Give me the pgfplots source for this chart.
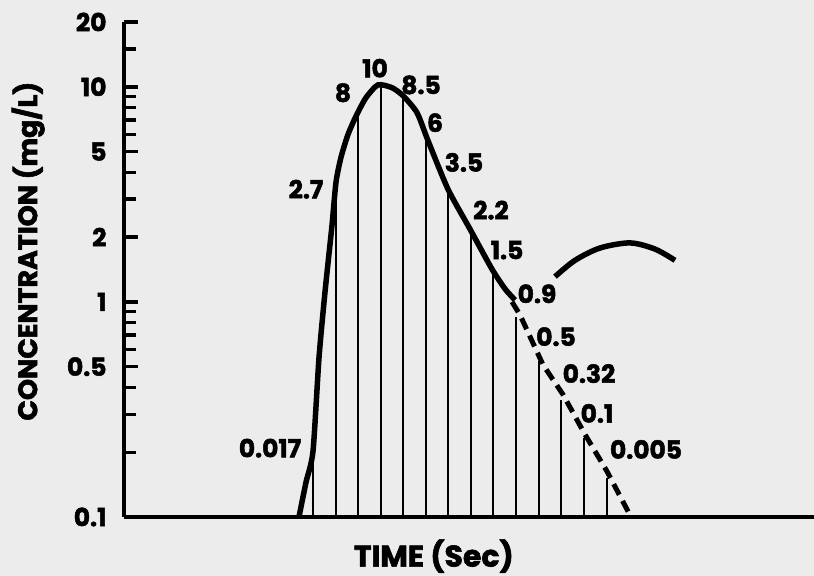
\documentclass[border=0pt]{standalone}
\usepackage{pgfplots}
\pgfplotsset{compat=1.18}
\usepackage{fontspec}
\setmainfont{Poppins}[Numbers=Proportional, BoldFeatures={FakeBold=2}]
\definecolor{bg}{RGB}{236,236,236}
\newcommand{\lblfont}{\fontsize{25}{25}\selectfont\bfseries}
\begin{document}
\begin{tikzpicture}
\path[use as bounding box, fill=bg] (-124bp,-59bp) rectangle (690bp,517bp);
\begin{axis}[
  at={(0,0)}, anchor=south west,
  scale only axis, width=690bp, height=495bp,
  xmin=124, xmax=814, ymode=log, ymin=0.1, ymax=20,
  axis x line=bottom, axis y line=left,
  axis line style={-, line width=4.5bp},
  xtick=\empty,
  ytick={0.1,0.5,1,2,5,10,20},
  yticklabels={0.1,0.5,1,2,5,10,20},
  minor ytick={0.2,0.3,0.4,0.6,0.7,0.8,0.9,3,4,6,7,8,9,15},
  tick align=inside,
  major tick length=14bp, minor tick length=12bp,
  every tick/.style={line width=3.5bp, black},
  yticklabel style={font=\lblfont, xshift=-14bp},
  /pgf/number format/assume math mode=true,
  unbounded coords=jump,
  clip=false,
  xlabel={TIME (Sec)}, ylabel={CONCENTRATION (mg/L)},
  xlabel style={at={(axis description cs:0.449,-0.079)}, anchor=center, font=\fontsize{30}{30}\selectfont\bfseries},
  ylabel style={at={(axis description cs:-0.139,0.537)}, anchor=center, font=\fontsize{27}{27}\selectfont\bfseries},
]
% main solid curve
\addplot[line width=5.5bp, smooth, tension=0.4] coordinates {
(299,0.1) (306,0.145) (313,0.202) (319,0.55) (325,1.11) (332,2.27)
(336,3.6) (341,4.7) (348,6.0) (356,7.3) (366,8.9) (378,10.2) (392,9.9) (403,9.09)
(417,7.58) (428,5.62) (448,3.34) (470,2.18) (492,1.42) (505,1.15) (515,1.02)
};
% dashed extrapolation
\addplot[line width=5bp, dash pattern=on 12bp off 7bp] coordinates {
(512,1.0) (520,0.87) (543,0.51) (563,0.371) (585,0.242) (607,0.163) (631,0.1)
};
% recirculation hump
\addplot[line width=5.5bp, smooth] coordinates {
(555,1.31) (575,1.56) (600,1.78) (630,1.88) (655,1.76) (675,1.56)
};
% vertical lines under the curve
\addplot[line width=2.8bp] table {
x y
313 0.1
313 0.202
313 nan
336 0.1
336 3.6
336 nan
358 0.1
358 7.6
358 nan
381 0.1
381 10.2
381 nan
403 0.1
403 9.09
403 nan
426 0.1
426 5.95
426 nan
448 0.1
448 3.34
448 nan
471 0.1
471 2.15
471 nan
493 0.1
493 1.4
493 nan
516 0.1
516 0.85
516 nan
539 0.1
539 0.53
539 nan
561 0.1
561 0.35
561 nan
584 0.1
584 0.232
584 nan
607 0.1
607 0.152
};
% value labels
\addplot[draw=none, mark=none, nodes near coords, point meta=explicit symbolic,
  nodes near coords style={anchor=center, font=\lblfont, inner sep=0pt}]
table[meta=lab] {
x y lab
270 0.209 0.017
306 3.34 2.7
343 9.38 8
375 12.2 10
421 10.2 8.5
435 6.81 6
464 4.45 3.5
491 2.67 2.2
507 1.74 1.5
537 1.09 0.9
556 0.689 0.5
589 0.464 0.32
597 0.303 0.1
646 0.206 0.005
};
\end{axis}
\end{tikzpicture}
\end{document}
